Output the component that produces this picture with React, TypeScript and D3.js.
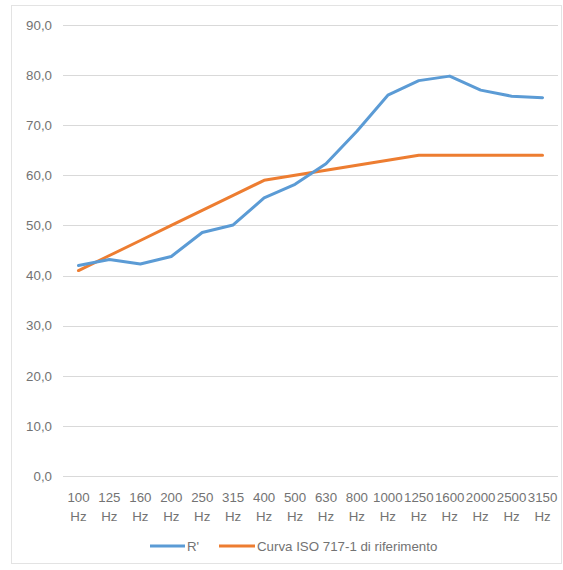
import React from "react";
import * as d3 from "d3";

const categories = ["100", "125", "160", "200", "250", "315", "400", "500", "630", "800", "1000", "1250", "1600", "2000", "2500", "3150"];
const rPrime = [42.0, 43.2, 42.3, 43.8, 48.6, 50.1, 55.5, 58.2, 62.3, 68.8, 76.0, 78.9, 79.8, 77.0, 75.8, 75.5];
const isoRef = [41, 44, 47, 50, 53, 56, 59, 60, 61, 62, 63, 64, 64, 64, 64, 64];
const yTicks = [0, 10, 20, 30, 40, 50, 60, 70, 80, 90];
const seriesNames = ["R'", "Curva ISO 717-1 di riferimento"];

const W = 563;
const H = 570;
const FONT = "'Liberation Sans', Arial, sans-serif";
const TEXT = "#737373";
const FS = 13.3;

export default function App() {
  const x = d3.scaleBand<string>().domain(categories).range([63, 558]);
  const y = d3.scaleLinear().domain([0, 90]).range([476, 25]);
  const cx = (c: string) => (x(c) as number) + x.bandwidth() / 2;
  const line = d3
    .line<number>()
    .x((_, i) => cx(categories[i]))
    .y((d) => y(d));
  const fmt = (v: number) => v.toFixed(1).replace(".", ",");

  return (
    <svg width={W} height={H} style={{ position: "absolute", left: 0, top: 0, background: "#fff" }} fontFamily={FONT}>
      <rect x={11.5} y={5.5} width={550} height={558} fill="#fff" stroke="#e3e3e3" strokeWidth={1} />
      {yTicks.map((t) => (
        <g key={t}>
          <line x1={63} x2={558} y1={Math.round(y(t)) + 0.5} y2={Math.round(y(t)) + 0.5} stroke="#d9d9d9" strokeWidth={1} />
          <text x={52} y={y(t) + 4.8} textAnchor="end" fontSize={FS} fill={TEXT}>
            {fmt(t)}
          </text>
        </g>
      ))}
      {categories.map((c) => (
        <g key={c}>
          <text x={cx(c)} y={502} textAnchor="middle" fontSize={FS} fill={TEXT}>
            {c}
          </text>
          <text x={cx(c)} y={521} textAnchor="middle" fontSize={FS} fill={TEXT}>
            Hz
          </text>
        </g>
      ))}
      <path d={line(isoRef) || ""} fill="none" stroke="#ed7d31" strokeWidth={3} strokeLinejoin="round" strokeLinecap="round" />
      <path d={line(rPrime) || ""} fill="none" stroke="#5b9bd5" strokeWidth={3} strokeLinejoin="round" strokeLinecap="round" />
      <g>
        <line x1={150} x2={185} y1={546} y2={546} stroke="#5b9bd5" strokeWidth={3} />
        <text x={187} y={550.5} fontSize={FS} fill={TEXT}>
          {seriesNames[0]}
        </text>
        <line x1={219} x2={255} y1={546} y2={546} stroke="#ed7d31" strokeWidth={3} />
        <text x={257} y={550.5} fontSize={FS} fill={TEXT}>
          {seriesNames[1]}
        </text>
      </g>
    </svg>
  );
}
